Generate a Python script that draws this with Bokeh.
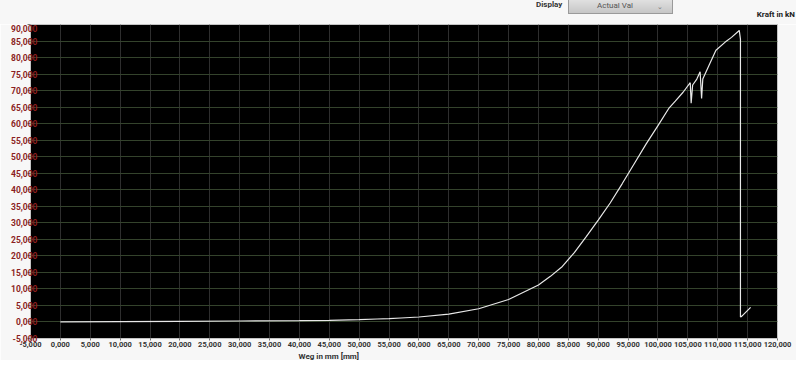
from bokeh.plotting import figure
from bokeh.models import ColumnDataSource, FixedTicker, Range1d, Title, Div
from bokeh.layouts import column
from bokeh.embed import file_html
from bokeh.resources import INLINE

# Displacement (mm) and force (kN)
weg_mm = [0.0, 10.0, 20.0, 30.0, 40.0, 45.0, 50.0, 53.0, 55.0, 57.0, 60.0,
          65.0, 70.0, 75.0, 80.0, 82.0, 84.0, 86.0, 88.0, 90.0, 92.0, 94.0,
          96.0, 98.0, 100.0, 101.8, 102.9, 104.2, 105.4, 105.55, 105.8,
          106.5, 107.05, 107.3, 107.5, 108.7, 109.7, 111.2, 112.3, 113.6,
          113.8, 113.8, 114.0, 115.5]
kraft_kn = [0.0, 0.1, 0.2, 0.3, 0.4, 0.5, 0.7, 0.9, 1.0, 1.2, 1.5,
            2.4, 4.0, 6.8, 11.2, 13.8, 16.8, 21.0, 25.8, 30.8, 36.0, 41.8,
            47.8, 53.8, 59.4, 64.6, 66.8, 69.5, 72.4, 66.2, 71.7,
            73.5, 75.7, 67.6, 73.5, 78.3, 82.2, 84.6, 86.1, 88.2,
            85.6, 1.5, 1.7, 4.4]

x_ticks = [-5, 0, 5, 10, 15, 20, 25, 30, 35, 40, 45, 50, 55, 60, 65, 70, 75,
           80, 85, 90, 95, 100, 105, 110, 115, 120]
x_tick_labels = ["-5,000", "0,000", "5,000", "10,000", "15,000", "20,000",
                 "25,000", "30,000", "35,000", "40,000", "45,000", "50,000",
                 "55,000", "60,000", "65,000", "70,000", "75,000", "80,000",
                 "85,000", "90,000", "95,000", "100,000", "105,000",
                 "110,000", "115,000", "120,000"]
y_ticks = [-5, 0, 5, 10, 15, 20, 25, 30, 35, 40, 45, 50, 55, 60, 65, 70, 75,
           80, 85, 90]
y_tick_labels = ["-5,000", "0,000", "5,000", "10,000", "15,000", "20,000",
                 "25,000", "30,000", "35,000", "40,000", "45,000", "50,000",
                 "55,000", "60,000", "65,000", "70,000", "75,000", "80,000",
                 "85,000", "90,000"]
x_title = "Weg in mm [mm]"
y_title = "Kraft in kN"
display_label = "Display"
display_value = "Actual Val"

FONT = "Roboto"
BG = "#f7f7f7"

# header strip with the control-panel remnants
header = Div(width=796, height=24, styles={"margin": "0", "padding": "0"},
             text=f"""
<div style="position:relative;width:796px;height:24px;background:{BG};overflow:hidden;font-family:Roboto,sans-serif;">
  <span style="position:absolute;left:536px;top:-1px;font-weight:bold;font-size:8px;color:#333;">{display_label}</span>
  <div style="position:absolute;left:568px;top:-3px;width:105px;height:17px;box-sizing:border-box;border:1px solid #9a9a9a;background:linear-gradient(#e4e4e4,#c6c6c6);"></div>
  <span style="position:absolute;left:597px;top:0px;font-size:8px;color:#555;">{display_value}</span>
  <span style="position:absolute;left:657px;top:2px;font-size:7px;color:#777;">&#8964;</span>
  <span style="position:absolute;right:1px;top:9px;font-weight:bold;font-size:8px;color:#222;">{y_title}</span>
</div>""")

p = figure(width=796, height=336, output_backend="svg", toolbar_location=None,
           x_range=Range1d(-5, 120), y_range=Range1d(-5, 90),
           min_border_left=30, min_border_top=0, min_border_right=19,
           min_border_bottom=10)

p.background_fill_color = "#000000"
p.border_fill_color = BG
p.outline_line_color = "#c4c4c4"
p.outline_line_width = 1

src = ColumnDataSource(dict(x=weg_mm, y=kraft_kn))
p.line("x", "y", source=src, line_color="#e8e8e8", line_width=1.2)

# grid
p.xgrid.ticker = FixedTicker(ticks=x_ticks)
p.ygrid.ticker = FixedTicker(ticks=y_ticks)
p.xgrid.grid_line_color = "#2e2e2e"
p.ygrid.grid_line_color = "#34432c"

# x axis
xa = p.xaxis[0]
xa.ticker = FixedTicker(ticks=x_ticks)
xa.major_label_overrides = {t: l for t, l in zip(x_ticks, x_tick_labels)}
xa.major_label_text_font = FONT
xa.major_label_text_font_size = "7.5px"
xa.major_label_text_font_style = "bold"
xa.major_label_text_color = "#333333"
xa.major_label_standoff = 1
xa.major_tick_out = 2
xa.major_tick_in = 0
xa.major_tick_line_color = "#777777"
xa.minor_tick_line_color = None
xa.axis_line_color = None

# x axis title, left of centre as in the original
t = Title(text=x_title, align="left", offset=268, standoff=0,
          text_font=FONT, text_font_size="8px", text_font_style="bold",
          text_color="#333333")
p.add_layout(t, "below")

# y axis
ya = p.yaxis[0]
ya.ticker = FixedTicker(ticks=y_ticks)
ya.major_label_overrides = {t: l for t, l in zip(y_ticks, y_tick_labels)}
ya.major_label_text_font = FONT
ya.major_label_text_font_size = "8.5px"
ya.major_label_text_font_style = "bold"
ya.major_label_text_color = "#8b1f1f"
ya.major_label_standoff = -10
ya.major_tick_out = 3
ya.major_tick_in = 0
ya.major_tick_line_color = "#777777"
ya.minor_tick_line_color = None
ya.axis_line_color = None

layout = column(header, p, spacing=0)
open("out.html", "w").write(file_html(layout, INLINE))
